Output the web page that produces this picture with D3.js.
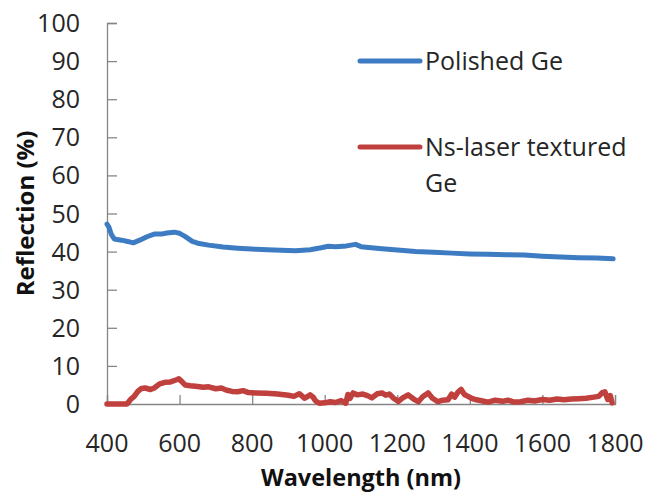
<!DOCTYPE html>
<html>
<head>
<meta charset="utf-8">
<script src="https://cdn.jsdelivr.net/npm/d3@7"></script>
<style>
  html, body { margin: 0; padding: 0; background: #fff; }
  svg { display: block; font-family: "Open Sans", "Noto Sans", sans-serif; }
</style>
</head>
<body>
<svg id="chart" width="647" height="493"></svg>
<script>
// Polished Ge reflection spectrum (nm, %)
const polishedWl = [400, 405, 412, 420, 440, 460, 472, 490, 510, 530, 550, 565, 585, 600, 615, 635, 650, 680, 720, 760,
  810, 860, 920, 960, 990, 1010, 1030, 1060, 1085, 1100, 1150, 1200, 1250, 1300, 1350, 1400, 1450, 1500, 1550, 1600,
  1650, 1700, 1750, 1795];
const polishedR = [47.2, 46.5, 44.5, 43.3, 43.0, 42.6, 42.3, 43.0, 43.9, 44.6, 44.6, 44.9, 45.1, 44.8, 44.0, 42.7, 42.2, 41.7, 41.2, 40.9,
  40.6, 40.4, 40.2, 40.5, 41.0, 41.4, 41.3, 41.5, 41.9, 41.3, 40.8, 40.4, 40.0, 39.8, 39.6, 39.4, 39.3, 39.2, 39.1, 38.8,
  38.6, 38.4, 38.3, 38.1];

// Ns-laser textured Ge reflection spectrum (nm, %)
const texturedWl = [400, 430, 455, 465, 475, 485, 495, 505, 520, 530, 545, 560, 575, 590, 598, 605, 615, 630, 650, 665,
  680, 700, 715, 730, 745, 760, 775, 790, 810, 840, 870, 900, 915, 930, 945, 960, 968, 975, 985, 1000,
  1015, 1030, 1045, 1058, 1064, 1070, 1078, 1090, 1105, 1118, 1130, 1145, 1158, 1168, 1178, 1190, 1203, 1215, 1230, 1245,
  1258, 1270, 1285, 1297, 1312, 1325, 1340, 1350, 1358, 1368, 1376, 1385, 1395, 1405, 1418, 1435, 1450, 1470, 1490, 1505,
  1522, 1540, 1560, 1578, 1600, 1620, 1640, 1660, 1680, 1700, 1720, 1742, 1755, 1765, 1772, 1780, 1787, 1792];
const texturedR = [0, 0, 0, 1.2, 2.0, 3.3, 4.1, 4.2, 3.8, 4.2, 5.3, 5.7, 5.8, 6.3, 6.6, 6.0, 5.0, 4.8, 4.6, 4.4,
  4.5, 4.0, 4.2, 3.6, 3.3, 3.2, 3.5, 3.0, 2.9, 2.8, 2.6, 2.3, 2.0, 2.7, 1.5, 2.4, 1.8, 0.8, 0.2, 0.3,
  0.6, 0.4, 0.9, 0.2, 2.5, 1.5, 2.9, 2.4, 2.6, 2.2, 1.6, 2.7, 2.9, 2.3, 2.6, 1.5, 0.7, 1.6, 2.4, 1.3,
  0.6, 1.9, 2.9, 1.5, 0.6, 1.0, 1.1, 2.6, 1.8, 3.2, 3.8, 2.5, 2.0, 1.5, 1.1, 0.8, 0.5, 1.0, 0.7, 1.0,
  0.5, 0.6, 1.0, 0.8, 1.2, 1.0, 1.3, 1.1, 1.3, 1.4, 1.5, 1.8, 2.0, 3.0, 3.2, 1.2, 2.2, 0.3];

const xTicks = [400, 600, 800, 1000, 1200, 1400, 1600, 1800];
const yTicks = [0, 10, 20, 30, 40, 50, 60, 70, 80, 90, 100];

const seriesNames = ['Polished Ge', 'Ns-laser textured Ge'];
const seriesColors = ['#3d7bc2', '#c0403e'];

const svg = d3.select('#chart');
const plot = { left: 107, right: 615, top: 23, bottom: 404 };

const x = d3.scaleLinear().domain([400, 1800]).range([plot.left, plot.right]);
const y = d3.scaleLinear().domain([0, 100]).range([plot.bottom, plot.top]);

const axisColor = '#868686';
const textColor = '#262626';

// Y axis: ticks pointing into the plot
const yAxis = svg.append('g')
    .attr('transform', `translate(${plot.left},0)`)
    .call(d3.axisRight(y).tickValues(yTicks).tickSize(10).tickFormat(''));
yAxis.select('.domain').attr('stroke', axisColor).attr('stroke-width', 1.3);
yAxis.selectAll('.tick line').attr('stroke', axisColor).attr('stroke-width', 1.3);

svg.append('g').selectAll('text')
  .data(yTicks)
  .join('text')
    .attr('x', 80)
    .attr('y', d => y(d))
    .attr('dy', '0.36em')
    .attr('text-anchor', 'end')
    .attr('font-size', '25px')
    .attr('fill', textColor)
    .text(d => d);

// X axis: ticks pointing up
const xAxis = svg.append('g')
    .attr('transform', `translate(0,${plot.bottom})`)
    .call(d3.axisTop(x).tickValues(xTicks).tickSize(9).tickFormat(''));
xAxis.select('.domain').attr('stroke', axisColor).attr('stroke-width', 1.3);
xAxis.selectAll('.tick line').attr('stroke', axisColor).attr('stroke-width', 1.3);

svg.append('g').selectAll('text')
  .data(xTicks)
  .join('text')
    .attr('x', d => x(d))
    .attr('y', 443)
    .attr('dy', '0.36em')
    .attr('text-anchor', 'middle')
    .attr('font-size', '25px')
    .attr('fill', textColor)
    .text(d => d);

// Axis titles
svg.append('text')
    .attr('transform', `translate(26,${(plot.top + plot.bottom) / 2}) rotate(-90)`)
    .attr('text-anchor', 'middle')
    .attr('dy', '0.35em')
    .attr('font-size', '24px')
    .attr('font-weight', 'bold')
    .attr('fill', '#111')
    .text('Reflection (%)');

// the reference crops this title at the bottom edge; keep it just inside
svg.append('text')
    .attr('x', (plot.left + plot.right) / 2)
    .attr('y', 486)
    .attr('text-anchor', 'middle')
    .attr('font-size', '23.5px')
    .attr('font-weight', 'bold')
    .attr('fill', '#111')
    .text('Wavelength (nm)');

// Series lines
const line = d3.line()
    .x(d => x(d[0]))
    .y(d => y(d[1]))
    .curve(d3.curveLinear);

const series = [
  d3.zip(polishedWl, polishedR),
  d3.zip(texturedWl, texturedR)
];

svg.append('g').selectAll('path')
  .data(series)
  .join('path')
    .attr('fill', 'none')
    .attr('stroke', (d, i) => seriesColors[i])
    .attr('stroke-width', (d, i) => i === 0 ? 5 : 5.5)
    .attr('stroke-linejoin', 'round')
    .attr('stroke-linecap', 'round')
    .attr('d', line);

// Legend
const legend = svg.append('g');
const legendY = [61, 147];
legend.selectAll('line')
  .data(seriesNames)
  .join('line')
    .attr('x1', 360).attr('x2', 420)
    .attr('y1', (d, i) => legendY[i]).attr('y2', (d, i) => legendY[i])
    .attr('stroke', (d, i) => seriesColors[i])
    .attr('stroke-width', 5)
    .attr('stroke-linecap', 'round');

legend.append('text')
    .attr('x', 425).attr('y', legendY[0]).attr('dy', '0.36em')
    .attr('font-size', '25px').attr('fill', textColor)
    .text('Polished Ge');

const t2 = legend.append('text')
    .attr('x', 425).attr('y', legendY[1]).attr('dy', '0.36em')
    .attr('font-size', '25px').attr('fill', textColor);
t2.append('tspan').attr('x', 425).text('Ns-laser textured');
t2.append('tspan').attr('x', 425).attr('dy', '1.42em').text('Ge');
</script>
</body>
</html>
